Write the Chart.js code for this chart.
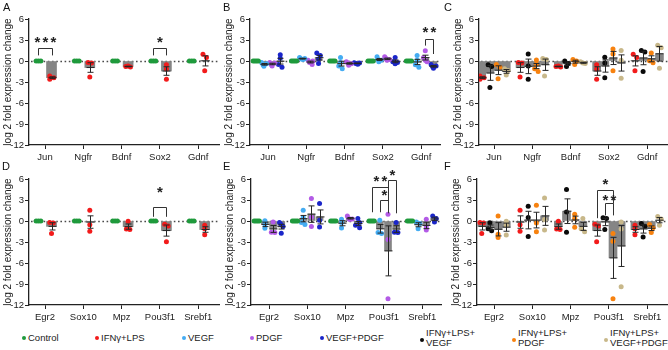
<!DOCTYPE html>
<html><head><meta charset="utf-8">
<script src="https://cdn.jsdelivr.net/npm/chart.js@4.4.1/dist/chart.umd.min.js"></script>
<style>
html,body{margin:0;padding:0;background:#fff;width:668px;height:350px;overflow:hidden;position:relative;font-family:'Liberation Sans',Arial,sans-serif;}
canvas{position:absolute;}
.letter{position:absolute;font-size:11px;line-height:11px;color:#111;}
.leg{position:absolute;font-size:9.5px;line-height:9.5px;color:#222;white-space:nowrap;}
.dot{position:absolute;width:4px;height:4px;border-radius:50%;}
</style></head><body>
<script>
// ---------------- data ----------------
const topGenes = ['Jun','Ngfr','Bdnf','Sox2','Gdnf'];
const bottomGenes = ['Egr2','Sox10','Mpz','Pou3f1','Srebf1'];
const yTickValues = [-12,-9,-6,-3,0,3,6];
const legendLabels = ['Control','IFNγ+LPS','VEGF','PDGF','VEGF+PDGF','IFNγ+LPS+\nVEGF','IFNγ+LPS+\nPDGF','IFNγ+LPS+\nVEGF+PDGF'];

// replicate log2 fold changes, one inner array per gene
const ctrl3Top = [[0,0,0],[0,0,0],[0,0,0],[0,0,0],[0,0,0]];
const ctrl4Top = [[0,0,0,0],[0,0,0,0],[0,0,0,0],[0,0,0,0],[0,0,0,0]];
const ifnTop = [[-2.15,-2.6,-2.4],[-0.2,-0.3,-2.3],[-0.8,-0.7,-0.85],[-0.55,-1.15,-2.6],[0.95,0.5,-1.4]];
const vegfTop = [[-0.2,-0.55,-0.75,-0.4],[0.5,0.3,0.2,0.35],[0.5,-0.2,-0.7,-1.1],[0.6,0.25,-0.1,0.1],[0.8,0.1,-0.55,-0.9]];
const pdgfTop = [[-0.2,-0.5,-0.7,-0.3],[0.1,-0.2,-0.5,0.0],[-0.1,-0.3,-0.6,-0.4],[0.6,0.35,0.1,0.2],[1.45,0.5,0.1,-0.1]];
const vegfPdgfTop = [[0.9,0.4,-0.5,-0.9],[1.15,0.8,0.3,-0.35],[-0.25,-0.35,-0.45,-0.3],[0.5,-0.1,-0.4,-0.2],[-0.5,-0.8,-1.05,-0.7]];
const ifnVegfTop = [[-0.55,-0.8,-3.8],[1.0,-0.7,-2.6],[0.0,-0.35,-0.8],[0.55,-0.3,-2.4],[1.5,1.3,-1.5]];
const ifnPdgfTop = [[-0.5,-0.9,-2.55],[0.15,-0.45,-1.1,-1.5],[0.2,0.0,-0.5],[1.7,1.0,-1.4],[1.15,0.05,-0.25]];
const ifnVegfPdgfTop = [[-1.1,-1.35,-2.0],[0.35,0.2,-2.15],[-0.1,-0.3,-0.35],[1.5,0.1,-2.45],[2.25,1.9,-1.05]];

const ctrl3Bottom = [[0,0,0],[0,0,0],[0,0,0],[0,0,0],[0,0,0]];
const ctrl4Bottom = [[0,0,0,0],[0,0,0,0],[0,0,0,0],[0,0,0,0],[0,0,0,0]];
const ifnBottom = [[-0.2,-0.3,-1.8],[1.55,-0.55,-1.45],[-0.05,-1.15,-1.2],[-0.45,-0.7,-2.95],[-0.6,-1.1,-1.95]];
const vegfBottom = [[0.05,-0.45,-1.05],[1.55,0.5,-0.2,-0.5],[0.25,-0.2,-1.0],[0.1,-1.65,-1.8],[-0.15,-0.35,-1.1]];
const pdgfBottom = [[-0.15,-1.6,-1.65],[3.2,0.55,-0.8],[0.7,0.35,0.2,0.3],[0.95,-2.65,-11.1],[0.25,-0.85,-1.3]];
const vegfPdgfBottom = [[-0.2,-0.5,-0.8,-1.75],[2.5,0.1,-0.85],[0.35,-0.6,-0.95,-0.2],[-0.2,-1.6,-1.65],[0.7,0.35,-0.15]];
const ifnVegfBottom = [[-0.25,-1.1,-1.4],[2.1,0.5,-2.2],[4.5,1.3,-1.6],[0.45,0.35,-1.2],[-0.35,-0.75,-2.3]];
const ifnPdgfBottom = [[0.7,-1.9,-2.35],[2.25,-0.3,-1.55],[0.95,0.4,-0.9],[-1.8,-2.9,-11.1],[-0.5,-0.95,-1.65]];
const ifnVegfPdgfBottom = [[-0.05,-0.6,-2.0],[3.3,0.2,-1.3],[0.35,-1.1,-1.55],[-0.15,-1.15,-9.4],[0.65,0.3,-0.6]];

// significance annotations (gene index, pair of group indices, bracket levels in data units)
const sigA = [{gene:0,pair:[0,1],top:1.85,legs:[0.8,0.8],label:'***',textY:2.95},
              {gene:3,pair:[0,1],top:1.85,legs:[0.8,0.8],label:'*',textY:2.95}];
const sigB = [{gene:4,pair:[2,3],top:3.2,legs:[2.2,1.0],label:'**',textY:4.5}];
const sigC = [];
const sigD = [{gene:3,pair:[0,1],top:2.0,legs:[0.6,0.6],label:'*',textY:4.4}];
const sigE = [{gene:3,pair:[0,2],top:4.85,legs:[1.25,1.25],label:'**',textY:6.0},
              {gene:3,pair:[1,2],top:3.0,legs:[1.25,1.25],label:'*',textY:4.0},
              {gene:3,pair:[2,3],top:5.85,legs:[1.1,1.1],label:'*',textY:6.9}];
const sigF = [{gene:3,pair:[0,2],top:4.5,legs:[0.4,2.5],label:'*',textY:5.6},
              {gene:3,pair:[1,2],top:2.55,legs:[0.8,0.8],label:'**',textY:3.35}];

// ---------------- styling / layout ----------------
const FONT = "'Liberation Sans', Arial, sans-serif";
Chart.defaults.font.family = FONT;
const groupColors = {Control:'#1f9a3c', IFN:'#f21b1b', VEGF:'#45acf2', PDGF:'#b35be6', VP:'#1a25c9', IV:'#0a0a0a', IP:'#f7820f', IVP:'#c8b88a'};
const BAR = '#858585';
const PX_PER_UNIT = 38.3;
const four = [-0.32,-0.107,0.107,0.32];
const two = [-0.17,0.17];

const panels = [
 {id:'A', x:0,   y:0,   genes:topGenes, groups:['Control','IFN'], series:[ctrl3Top, ifnTop], slot:two, barW:10, lead:16, sig:sigA},
 {id:'B', x:221, y:0,   genes:topGenes, groups:['Control','VEGF','PDGF','VP'], series:[ctrl4Top, vegfTop, pdgfTop, vegfPdgfTop], slot:four, barW:7, lead:18, sig:sigB},
 {id:'C', x:450, y:0,   genes:topGenes, groups:['IFN','IV','IP','IVP'], series:[ifnTop, ifnVegfTop, ifnPdgfTop, ifnVegfPdgfTop], slot:four, barW:8, lead:15, sig:sigC},
 {id:'D', x:0,   y:160, genes:bottomGenes, groups:['Control','IFN'], series:[ctrl3Bottom, ifnBottom], slot:two, barW:10, lead:16, sig:sigD},
 {id:'E', x:222, y:160, genes:bottomGenes, groups:['Control','VEGF','PDGF','VP'], series:[ctrl4Bottom, vegfBottom, pdgfBottom, vegfPdgfBottom], slot:four, barW:7, lead:18, sig:sigE},
 {id:'F', x:448, y:160, genes:bottomGenes, groups:['IFN','IV','IP','IVP'], series:[ifnBottom, ifnVegfBottom, ifnPdgfBottom, ifnVegfPdgfBottom], slot:four, barW:8, lead:17, sig:sigF},
];
const letterPos = {A:[3,2],B:[223,2],C:[444,2],D:[2,161],E:[223,161],F:[444,161]};

function mean(a){return a.reduce((s,v)=>s+v,0)/a.length;}
function sem(a){const m=mean(a); if(a.length<2) return 0; const v=a.reduce((s,x)=>s+(x-m)*(x-m),0)/(a.length-1); return Math.sqrt(v/a.length);}
function spread(vals){
  return vals.map((v,i)=>{
    const nb=[]; vals.forEach((w,k)=>{ if(Math.abs(w-v)<0.45) nb.push(k); });
    const r=nb.indexOf(i), m=nb.length, sp = m>1 ? 7/m : 0;
    return (r-(m-1)/2)*sp/PX_PER_UNIT;
  });
}

function makeDecor(cfg){
  return {
    id:'decor'+cfg.id,
    beforeDatasetsDraw(chart){
      const {ctx, chartArea, scales:{y}} = chart;
      const py = Math.round(y.getPixelForValue(0))+0.5;
      ctx.save(); ctx.strokeStyle='#4a4a4a'; ctx.lineWidth=1.5; ctx.setLineDash([1.6,2.6]);
      ctx.beginPath(); ctx.moveTo(chartArea.left+2, py); ctx.lineTo(chartArea.right, py); ctx.stroke(); ctx.restore();
    },
    afterDatasetsDraw(chart){
      const {ctx, scales:{x,y}} = chart;
      ctx.save();
      ctx.strokeStyle='#262626'; ctx.lineWidth=1;
      chart.data.datasets.forEach(ds=>{
        if(!ds.errs) return;
        ds.data.forEach((d,i)=>{
          const e=ds.errs[i]; if(!e) return;
          const px=Math.round(x.getPixelForValue(d.x))+0.5;
          const t=y.getPixelForValue(d.y+e), b=y.getPixelForValue(d.y-e), m=y.getPixelForValue(d.y);
          const cw=3;
          ctx.beginPath();
          ctx.moveTo(px,t); ctx.lineTo(px,b);
          ctx.moveTo(px-cw,t); ctx.lineTo(px+cw,t);
          ctx.moveTo(px-cw,b); ctx.lineTo(px+cw,b);
          ctx.moveTo(px-cw-1,m); ctx.lineTo(px+cw+1,m);
          ctx.stroke();
        });
      });
      ctx.strokeStyle='#333'; ctx.lineWidth=1;
      cfg.sig.forEach(s=>{
        const x1=Math.round(x.getPixelForValue(s.gene+cfg.slot[s.pair[0]]))+0.5;
        const x2=Math.round(x.getPixelForValue(s.gene+cfg.slot[s.pair[1]]))+0.5;
        const yt=Math.round(y.getPixelForValue(s.top))+0.5;
        ctx.beginPath();
        ctx.moveTo(x1,y.getPixelForValue(s.legs[0])); ctx.lineTo(x1,yt); ctx.lineTo(x2,yt); ctx.lineTo(x2,y.getPixelForValue(s.legs[1]));
        ctx.stroke();
        ctx.fillStyle='#222'; ctx.font='bold 15px '+FONT; ctx.textAlign='left'; ctx.textBaseline='alphabetic';
        const sp=2.2;
        const mw=ctx.measureText('*');
        const w=s.label.length*mw.width+(s.label.length-1)*sp;
        const asc=mw.actualBoundingBoxAscent, desc=mw.actualBoundingBoxDescent;
        const base=y.getPixelForValue(s.textY)+(asc-desc)/2;
        let sx=(x1+x2)/2-w/2;
        for(let k=0;k<s.label.length;k++){ ctx.fillText('*',sx,base); sx+=mw.width+sp; }
      });
      ctx.restore();
    }
  };
}

panels.forEach(cfg=>{
  const cv=document.createElement('canvas');
  cv.width=223; cv.height=165; cv.style.left=cfg.x+'px'; cv.style.top=cfg.y+'px';
  document.body.appendChild(cv);
  const datasets=[];
  cfg.groups.forEach((g,gi)=>{
    const ser=cfg.series[gi];
    datasets.push({type:'bar', data:cfg.genes.map((n,i)=>({x:i+cfg.slot[gi], y:mean(ser[i])})),
      backgroundColor:BAR, borderWidth:0, barThickness:cfg.barW, grouped:false, errs:cfg.genes.map((n,i)=>sem(ser[i])), order:3});
    const pts=[];
    cfg.genes.forEach((n,i)=>{ const off=spread(ser[i]); ser[i].forEach((v,k)=>pts.push({x:i+cfg.slot[gi]+off[k], y:v})); });
    datasets.push({type:'scatter', data:pts, backgroundColor:groupColors[g], borderWidth:0, pointRadius:2.5, order:1});
  });
  const xmin=-cfg.lead/PX_PER_UNIT;
  new Chart(cv,{
    type:'bar',
    data:{datasets},
    options:{
      responsive:false, devicePixelRatio:1, animation:false, events:[],
      layout:{padding:{top:19,right:4,left:0,bottom:0}},
      plugins:{legend:{display:false}, tooltip:{enabled:false}},
      scales:{
        x:{type:'linear', min:xmin, max:xmin+190/PX_PER_UNIT, offset:false,
           afterBuildTicks:(ax)=>{ax.ticks=cfg.genes.map((n,i)=>({value:i}));},
           afterFit:(sc)=>{sc.height=20;},
           ticks:{callback:(v)=>cfg.genes[v], color:'#222', font:{size:9.5}, autoSkip:false, maxRotation:0, padding:3},
           grid:{display:true, drawOnChartArea:false, drawTicks:true, tickLength:4, color:'#222', offset:false},
           border:{display:true, color:'#222', width:1.3}},
        y:{type:'linear', min:-12, max:6,
           afterBuildTicks:(ax)=>{ax.ticks=yTickValues.map(v=>({value:v}));},
           afterFit:(sc)=>{sc.width=29;},
           ticks:{callback:(v)=>String(v), color:'#222', font:{size:9.5}, padding:1},
           grid:{display:true, drawOnChartArea:false, drawTicks:true, tickLength:4, color:'#222'},
           border:{display:true, color:'#222', width:1.3},
           title:{display:true, text:'log 2 fold expression change', color:'#222', font:{size:10}, padding:{top:2,bottom:0}}}
      }
    },
    plugins:[makeDecor(cfg)]
  });
  const L=document.createElement('div'); L.className='letter'; L.textContent=cfg.id;
  L.style.left=letterPos[cfg.id][0]+'px'; L.style.top=letterPos[cfg.id][1]+'px';
  document.body.appendChild(L);
});

// legend
const legendColors=[groupColors.Control,groupColors.IFN,groupColors.VEGF,groupColors.PDGF,groupColors.VP,groupColors.IV,groupColors.IP,groupColors.IVP];
const legendX=[24,97,184,252,322,422,514,606];
legendLabels.forEach((lab,i)=>{
  const lines=lab.split('\n');
  const d=document.createElement('div'); d.className='dot'; d.style.background=legendColors[i];
  d.style.left=(legendX[i]-2)+'px'; d.style.top=(lines.length>1?338:336)+'px';
  document.body.appendChild(d);
  lines.forEach((t,k)=>{
    const s=document.createElement('div'); s.className='leg'; s.textContent=t;
    s.style.left=(legendX[i]+4)+'px';
    s.style.top=(lines.length>1 ? 328+k*10 : 333)+'px';
    document.body.appendChild(s);
  });
});
</script>
</body></html>
